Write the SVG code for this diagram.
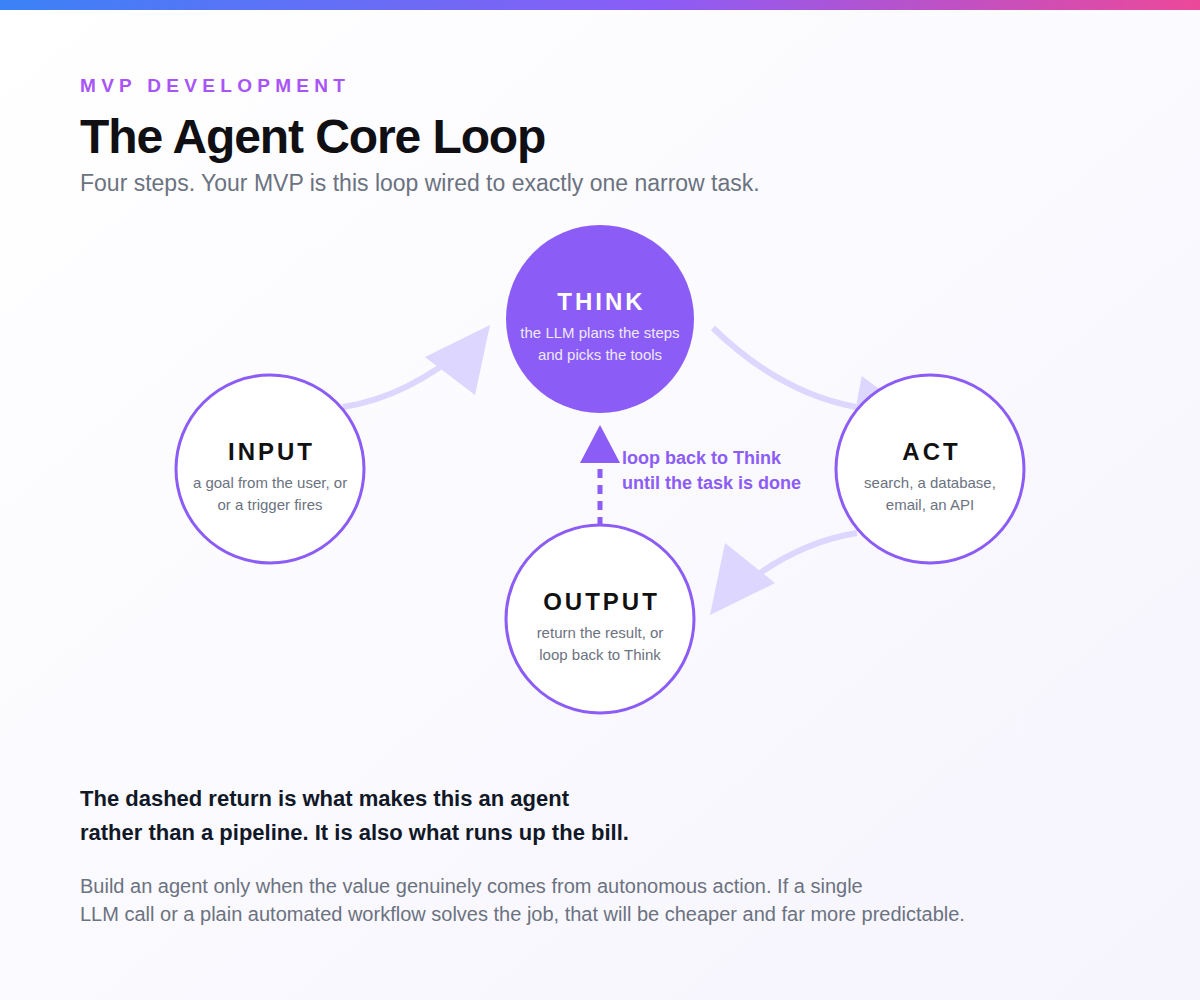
<svg xmlns="http://www.w3.org/2000/svg" width="1200" height="1000" viewBox="0 0 1200 1000">
  <defs>
    <linearGradient id="bg" x1="0" y1="0" x2="1" y2="1">
      <stop offset="0" stop-color="#ffffff"/>
      <stop offset="1" stop-color="#f6f4fd"/>
    </linearGradient>
    <linearGradient id="bar" x1="0" y1="0" x2="1" y2="0">
      <stop offset="0" stop-color="#3b82f6"/>
      <stop offset="0.55" stop-color="#8b5cf6"/>
      <stop offset="1" stop-color="#ec4899"/>
    </linearGradient>
    <style>
      .sans { font-family: "Liberation Sans", Arial, sans-serif; }
      .flow { fill: none; stroke: #ddd6fe; stroke-width: 6; }
      .head { fill: #ddd6fe; }
      .node { fill: #ffffff; stroke: #8b5cf6; stroke-width: 3; }
      .label { font-family: "Liberation Sans", Arial, sans-serif; font-size: 24px; font-weight: 700; letter-spacing: 3px; fill: #111111; text-anchor: middle; }
      .sub { font-family: "Liberation Sans", Arial, sans-serif; font-size: 15px; fill: #6b7280; text-anchor: middle; }
    </style>
  </defs>

  <rect x="0" y="0" width="1200" height="1000" fill="url(#bg)"/>
  <rect x="0" y="0" width="1200" height="10" fill="url(#bar)"/>

  <text class="sans" x="80" y="92" font-size="19" font-weight="700" letter-spacing="5.3" fill="#a855f7">MVP DEVELOPMENT</text>
  <text class="sans" x="80" y="153" font-size="48" font-weight="700" letter-spacing="-1.1" fill="#0f0f14">The Agent Core Loop</text>
  <text class="sans" x="80" y="191" font-size="23" fill="#6b7280">Four steps. Your MVP is this loop wired to exactly one narrow task.</text>

  <g id="connectors">
    <path class="flow" d="M343,407 Q408.5,396.8 468.8,344.7"/>
    <polygon class="head" points="490,325 425,357 475,395"/>
    <path class="flow" d="M713,328 Q780,393 856,407"/>
    <polygon class="head" points="861.7,376 920,419 850.3,438"/>
    <path class="flow" d="M857,533 Q791.5,543.2 731.2,595.3"/>
    <polygon class="head" points="710,615 725,543 775,583"/>
    <path d="M600,469 L600,525" fill="none" stroke="#8b5cf6" stroke-width="5" stroke-dasharray="9 7"/>
    <polygon points="600,425 580,463 620,463" fill="#8b5cf6"/>
    <text class="sans" font-size="18" font-weight="700" fill="#8b5cf6">
      <tspan x="622" y="464">loop back to Think</tspan>
      <tspan x="622" y="489">until the task is done</tspan>
    </text>
  </g>

  <g id="think">
    <circle cx="600" cy="319" r="94" fill="#8b5cf6"/>
    <text class="label" x="601.5" y="310" style="fill:#ffffff">THINK</text>
    <text class="sub" x="600" y="338" style="fill:#ede9fe">the LLM plans the steps</text>
    <text class="sub" x="600" y="360" style="fill:#ede9fe">and picks the tools</text>
  </g>

  <g id="input">
    <circle class="node" cx="270" cy="469" r="94"/>
    <text class="label" x="271.5" y="460">INPUT</text>
    <text class="sub" x="270" y="488">a goal from the user, or</text>
    <text class="sub" x="270" y="510">or a trigger fires</text>
  </g>

  <g id="act">
    <circle class="node" cx="930" cy="469" r="94"/>
    <text class="label" x="931.5" y="460">ACT</text>
    <text class="sub" x="930" y="488">search, a database,</text>
    <text class="sub" x="930" y="510">email, an API</text>
  </g>

  <g id="output">
    <circle class="node" cx="600" cy="619" r="94"/>
    <text class="label" x="601.5" y="610">OUTPUT</text>
    <text class="sub" x="600" y="638">return the result, or</text>
    <text class="sub" x="600" y="660">loop back to Think</text>
  </g>

  <text class="sans" font-size="22" font-weight="700" fill="#111827">
    <tspan x="80" y="806">The dashed return is what makes this an agent</tspan>
    <tspan x="80" y="840">rather than a pipeline. It is also what runs up the bill.</tspan>
  </text>
  <text class="sans" font-size="20" fill="#6b7280">
    <tspan x="80" y="893">Build an agent only when the value genuinely comes from autonomous action. If a single</tspan>
    <tspan x="80" y="921">LLM call or a plain automated workflow solves the job, that will be cheaper and far more predictable.</tspan>
  </text>
</svg>
